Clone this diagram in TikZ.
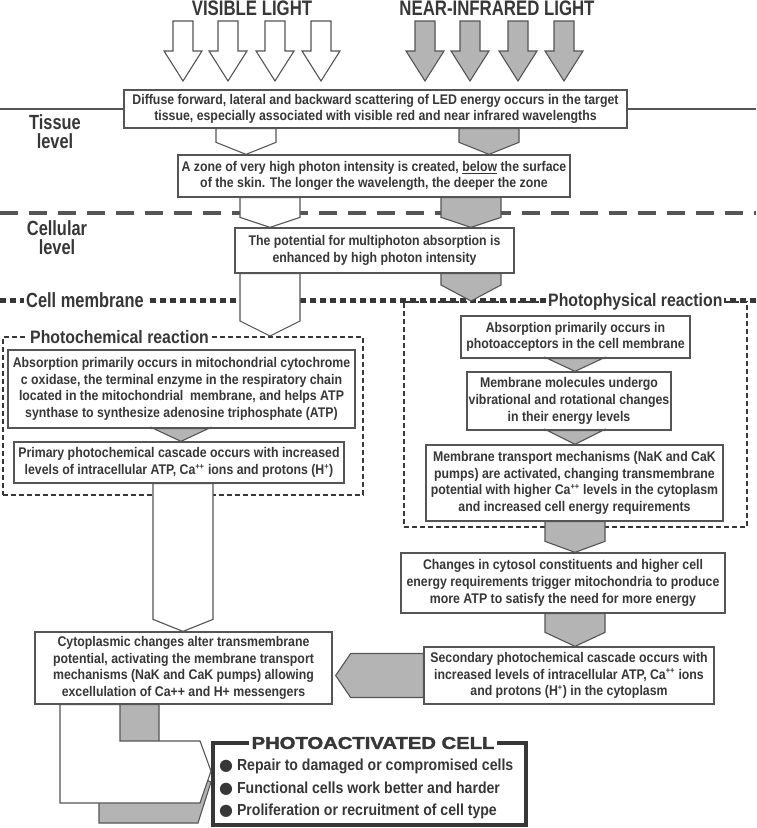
\documentclass[tikz,border=0pt]{standalone}
\usepackage{fontspec}
\setmainfont{Liberation Sans}[FakeStretch=0.88]
\newfontfamily\narrowfont{Liberation Sans}[FakeStretch=0.8]
\newfontfamily\widefont{Liberation Sans}[FakeStretch=1.19,FakeBold=2]
\newfontfamily\symbolfont{DejaVu Sans}
\newcommand{\ionsup}[1]{\textsuperscript{\fontsize{8.5}{8.5}\selectfont #1}}
\usetikzlibrary{calc}
\definecolor{ink}{RGB}{55,55,55}
\definecolor{edgegray}{RGB}{85,85,85}
\definecolor{fillgray}{RGB}{180,180,180}

\begin{document}
\begin{tikzpicture}[x=1pt,y=-1pt]
        \tikzstyle{every node}=[text=ink, font=\bfseries]
        \tikzstyle{box}=[rectangle, draw=edgegray, line width=1.3pt, fill=white, align=center, inner sep=0pt, font=\bfseries\fontsize{14}{16.7}\selectfont]
        \tikzstyle{frame}=[rectangle, draw=ink, line width=2pt, dash pattern=on 5pt off 3pt, inner sep=0pt]
        \tikzstyle{block}=[draw=edgegray, line width=1.1pt]
        \tikzstyle{level}=[align=center, font=\narrowfont\bfseries\fontsize{20.5}{19}\selectfont]
        \tikzstyle{tag}=[fill=white, inner sep=2pt, anchor=west, font=\bfseries\fontsize{18}{18}\selectfont]

        \useasboundingbox (0,0) rectangle (756,828);

        \node[anchor=base, font=\narrowfont\bfseries\fontsize{21}{21}\selectfont] (visible) at (252,15) {VISIBLE LIGHT};
        \node[anchor=base, font=\narrowfont\bfseries\fontsize{21}{21}\selectfont] (infrared) at (497,15) {NEAR-INFRARED LIGHT};
        \foreach \x in {183,228,275,321}
          \filldraw[block, fill=white] (\x-10,21) -- (\x+10,21) -- (\x+10,51) -- (\x+19,51) -- (\x,81) -- (\x-19,51) -- (\x-10,51) -- cycle;
        \foreach \x in {425,470,518,564}
          \filldraw[block, fill=fillgray] (\x-10,21) -- (\x+10,21) -- (\x+10,51) -- (\x+19,51) -- (\x,81) -- (\x-19,51) -- (\x-10,51) -- cycle;

        \node[box, minimum width=503pt, minimum height=38pt] (diffuse) at (375.5,109) {Diffuse forward, lateral and backward scattering of LED energy occurs in the target\\ tissue, especially associated with visible red and near infrared wavelengths};
        \node[box, minimum width=392pt, minimum height=42pt] (zone) at (374,176) {A zone of very high photon intensity is created, \underline{below} the surface\\ of the skin. The longer the wavelength, the deeper the zone};
        \node[box, minimum width=279pt, minimum height=45pt] (potential) at (374.5,250.5) {The potential for multiphoton absorption is\\ enhanced by high photon intensity};

        \node[box, minimum width=347pt, minimum height=78pt] (mito) at (181.5,389) {Absorption primarily occurs in mitochondrial cytochrome\\ c oxidase, the terminal enzyme in the respiratory chain\\ located in the mitochondrial\ \ membrane, and helps ATP\\ synthase to synthesize adenosine triphosphate (ATP)};
        \node[box, minimum width=330pt, minimum height=41pt] (primary) at (179,462.5) {Primary photochemical cascade occurs with increased\\ levels of intracellular ATP, Ca\ionsup{++} ions and protons (H\ionsup{+})};
        \node[box, minimum width=297pt, minimum height=72pt] (cytoplasmic) at (183.5,668) {Cytoplasmic changes alter transmembrane\\ potential, activating the membrane transport\\ mechanisms (NaK and CaK pumps) allowing\\ excellulation of Ca++ and H+ messengers};

        \node[box, minimum width=229pt, minimum height=42pt] (acceptor) at (575.5,337) {Absorption primarily occurs in\\ photoacceptors in the cell membrane};
        \node[box, minimum width=204pt, minimum height=58pt] (molecules) at (569,401) {Membrane molecules undergo\\ vibrational and rotational changes\\ in their energy levels};
        \node[box, minimum width=297pt, minimum height=76pt] (transport) at (574.5,483) {Membrane transport mechanisms (NaK and CaK\\ pumps) are activated, changing transmembrane\\ potential with higher Ca\ionsup{++} levels in the cytoplasm\\ and increased cell energy requirements};
        \node[box, minimum width=324pt, minimum height=60pt] (cytosol) at (563,583) {Changes in cytosol constituents and higher cell\\ energy requirements trigger mitochondria to produce\\ more ATP to satisfy the need for more energy};
        \node[box, minimum width=290pt, minimum height=57pt] (secondary) at (569,675.5) {Secondary photochemical cascade occurs with\\ increased levels of intracellular ATP, Ca\ionsup{++} ions\\ and protons (H\ionsup{+}) in the cytoplasm};

        \draw[edgegray, line width=2.2pt] (0,0 |- diffuse.west) -- (diffuse.west);
        \draw[edgegray, line width=2.2pt] (diffuse.east) -- (756,0 |- diffuse.east);
        \draw[edgegray, line width=3.5pt, dash pattern=on 18pt off 11pt] (0,213) -- (756,213);
        \draw[ink, line width=5pt, dash pattern=on 5.5pt off 4.5pt] (0,300) -- (756,300);

        \node[frame, minimum width=360pt, minimum height=158pt] (photochem) at (183,416) {};
        \node[frame, minimum width=343pt, minimum height=225pt] (photophys) at (575.5,414.5) {};

        \node[level] (tissue) at (55,132) {Tissue\\level};
        \node[level] (cellular) at (57,238) {Cellular\\level};
        \node[tag, font=\narrowfont\bfseries\fontsize{20.5}{20}\selectfont] (membrane) at (24,300) {Cell membrane};
        \node[tag] (chemtag) at (28,337) {Photochemical reaction};
        \node[tag] (phystag) at (546,302) {Photophysical reaction};

        \foreach \x/\src/\dst/\dep/\tone in {246/diffuse/zone/12/white, 489/diffuse/zone/12/fillgray,
            270/zone/potential/10/white, 471/zone/potential/10/fillgray,
            270/potential/photochem/15/white, 471/potential/photophys/16/fillgray,
            181/mito/primary/14/fillgray, 183/primary/cytoplasmic/12/white,
            575/acceptor/molecules/14/fillgray, 575/molecules/transport/15/fillgray,
            575/transport/cytosol/11/fillgray, 575/cytosol/secondary/14/fillgray}
          \filldraw[block, fill=\tone] ({\x-30},0 |- \src.south) -- ({\x+30},0 |- \src.south) -- ($({\x+30},0 |- \dst.north)+(0,-\dep)$) -- (\x,0 |- \dst.north) -- ($({\x-30},0 |- \dst.north)+(0,-\dep)$) -- cycle;

        \filldraw[block, fill=fillgray] ($(secondary.west)+(0,-22)$) -- ($(secondary.west)+(0,22)$) -- ($(cytoplasmic.east |- secondary.west)+(18,22)$) -- ($(cytoplasmic.east |- secondary.west)+(3,0)$) -- ($(cytoplasmic.east |- secondary.west)+(18,-22)$) -- cycle;

        \node[draw=ink, line width=4pt, minimum width=313pt, minimum height=82pt] (cell) at (369.5,784) {};
        \filldraw[block, fill=fillgray] (120,0 |- cytoplasmic.south) -- (159,0 |- cytoplasmic.south) -- (159,760) -- (cell.west |- 0,782) -- (198,823) -- (99,823) -- (99,780) -- cycle;
        \filldraw[block, fill=white] (60,0 |- cytoplasmic.south) -- (120,0 |- cytoplasmic.south) -- (120,0 |- cell.north) -- (200,0 |- cell.north) -- (cell.west |- 0,771) -- (200,803) -- (60,803) -- cycle;
        \node[fill=white, inner sep=3pt, font=\widefont\bfseries\fontsize{17}{17}\selectfont] (celltitle) at (373,743) {PHOTOACTIVATED CELL};
        \node[anchor=west, align=left, inner sep=0pt, font=\bfseries\fontsize{16}{22.5}\selectfont] (benefits) at (219,789) {{\symbolfont ●} Repair to damaged or compromised cells\\ {\symbolfont ●} Functional cells work better and harder\\ {\symbolfont ●} Proliferation or recruitment of cell type};
    \end{tikzpicture}
\end{document}
